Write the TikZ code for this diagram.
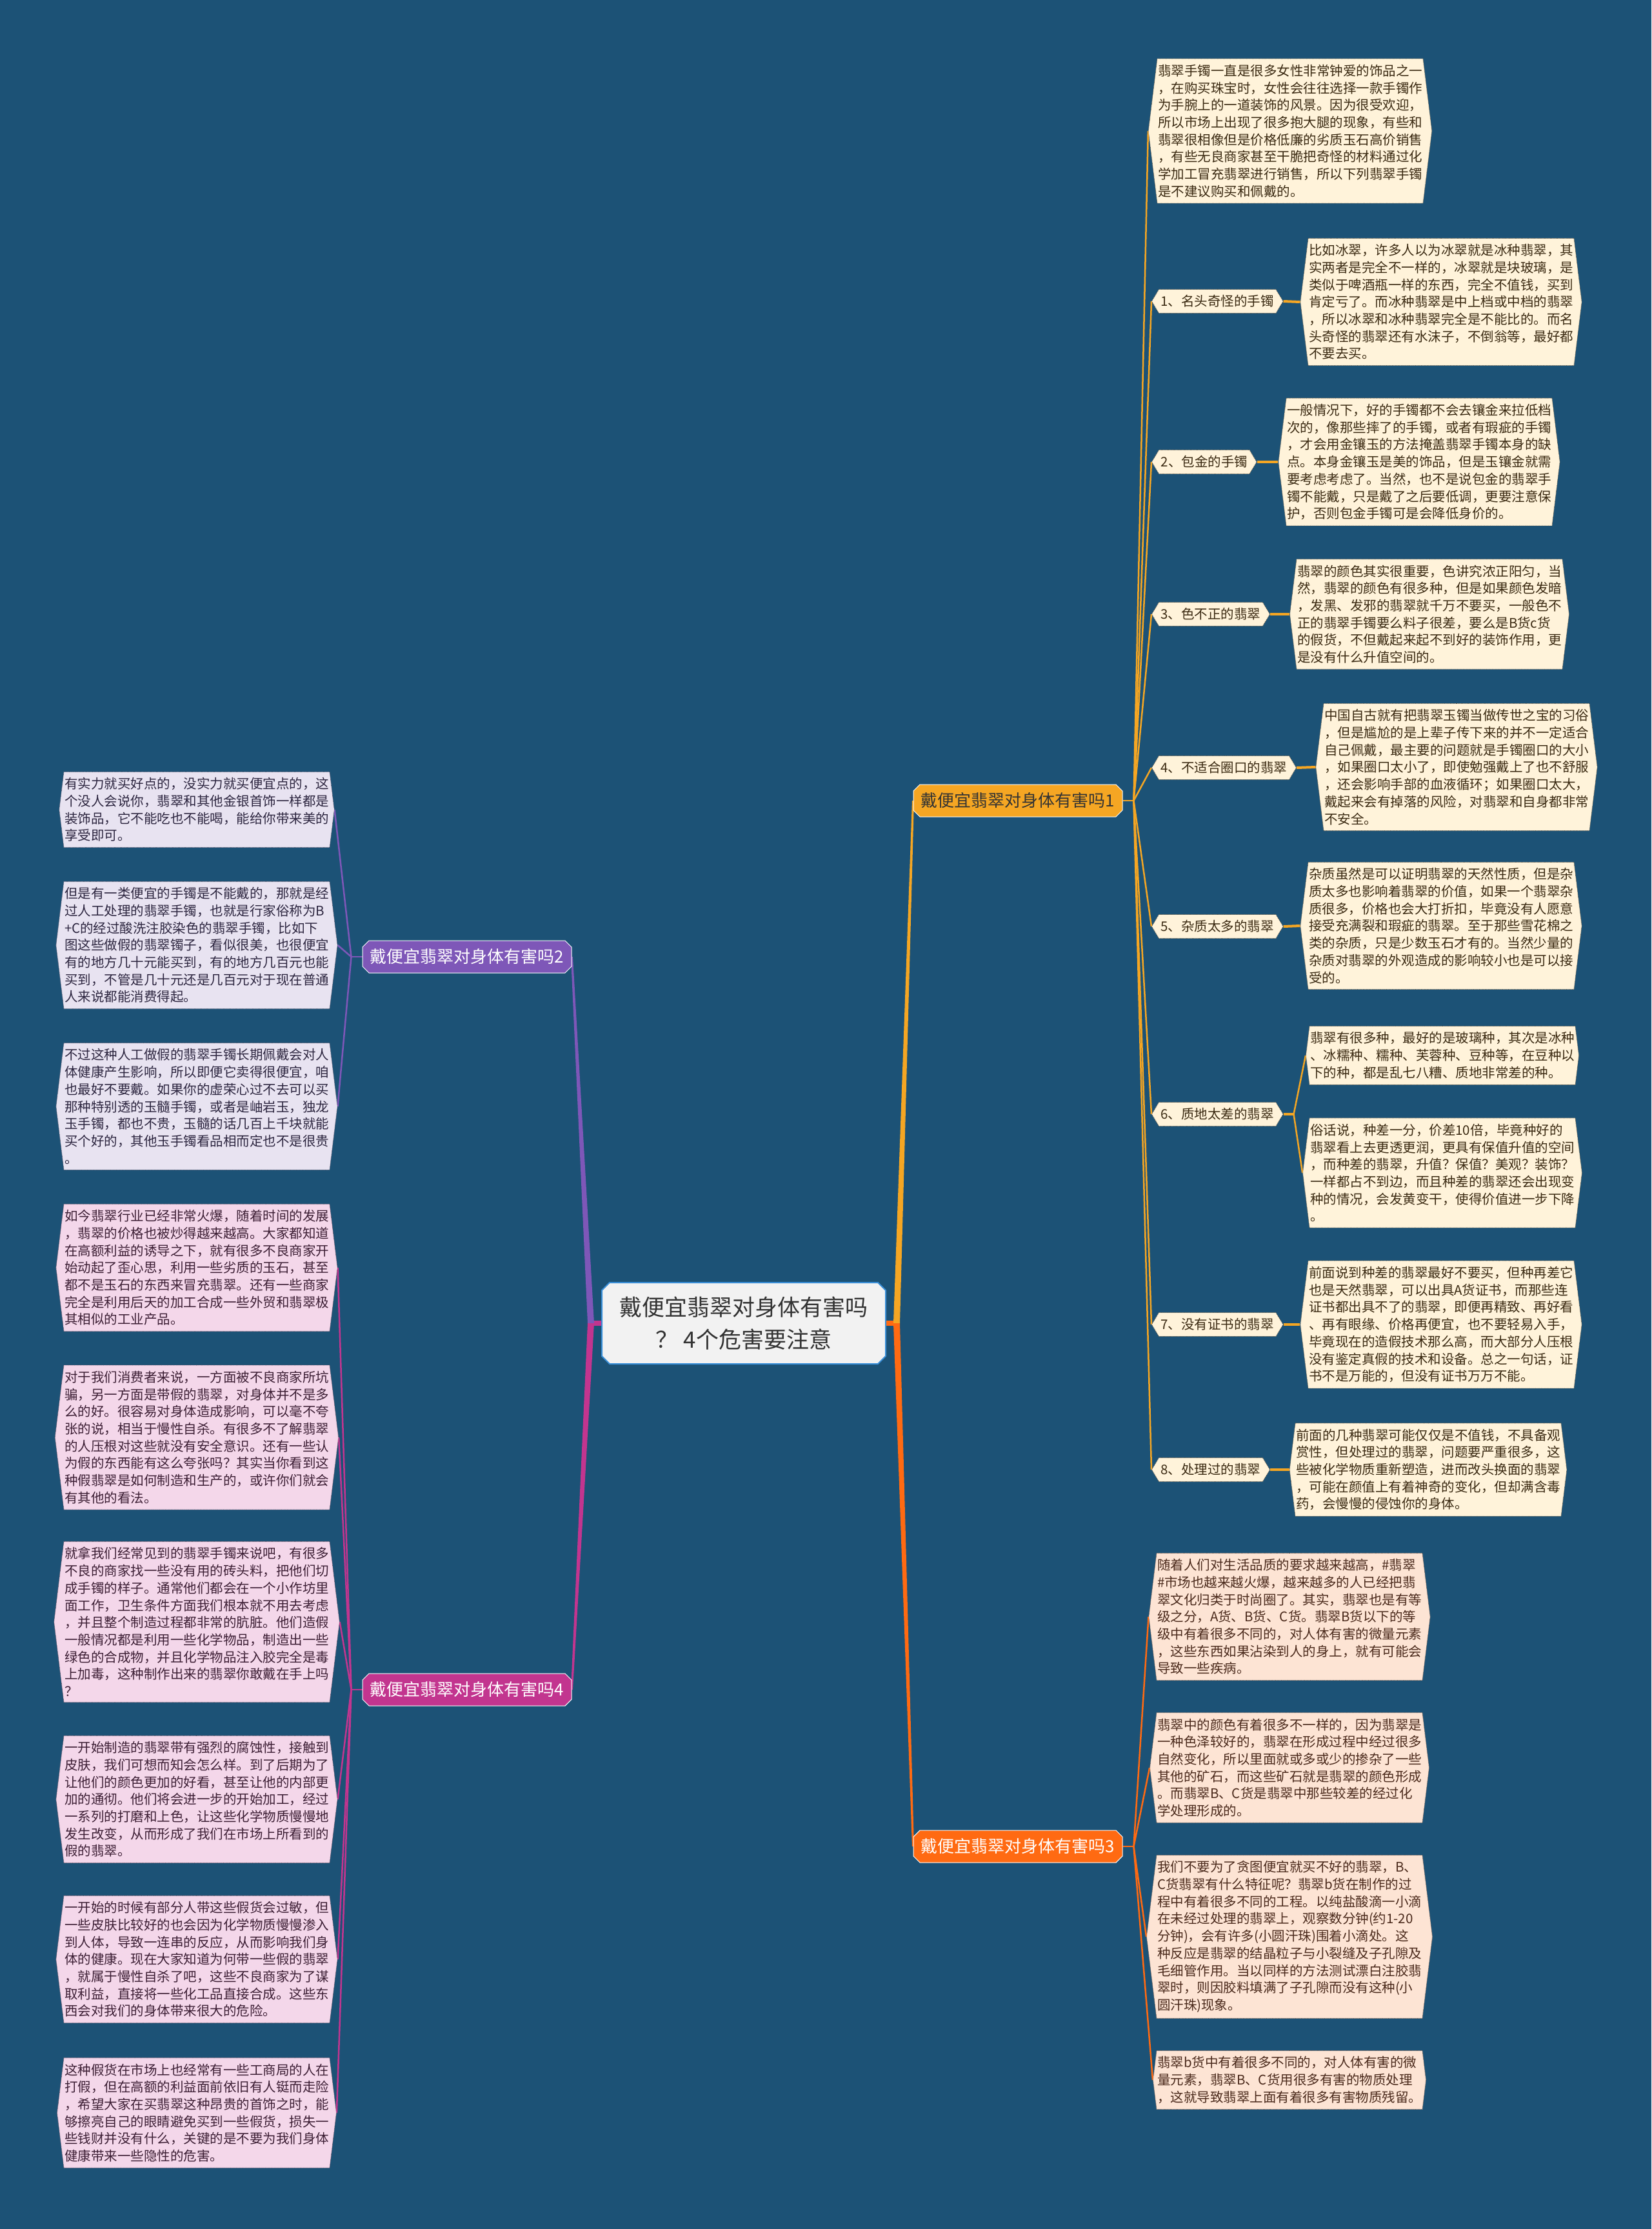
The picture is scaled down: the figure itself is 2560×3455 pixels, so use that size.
\documentclass[tikz,border=0pt]{standalone}
\usepackage{fontspec}
\newfontfamily\cjk{Noto Sans CJK SC}
\usepackage{xcolor}
\usepackage{tikz}
\usetikzlibrary{calc,backgrounds,shapes.symbols,shapes.misc}
\definecolor{mapbg}{HTML}{1C5276}
\definecolor{rootedge}{HTML}{3A8FD8}
\definecolor{rootfill}{HTML}{F2F2F2}
\definecolor{goldline}{HTML}{F5A623}
\definecolor{flameline}{HTML}{FF6A12}
\definecolor{violetline}{HTML}{7E57B8}
\definecolor{berryline}{HTML}{C2358F}
\definecolor{creamfill}{HTML}{FFF3DA}
\definecolor{peachfill}{HTML}{FDE4D4}
\definecolor{lavenderfill}{HTML}{E8E3F1}
\definecolor{pinkfill}{HTML}{F4D7EA}
\definecolor{brownink}{HTML}{3B2A12}
\definecolor{rustink}{HTML}{4B2A1C}
\definecolor{plumink}{HTML}{2D2640}
\definecolor{wineink}{HTML}{3D1F35}
\definecolor{titleink}{HTML}{333333}

\begin{document}
\begin{tikzpicture}[x=1pt,y=-1pt,
  rootnode/.style={chamfered rectangle,chamfered rectangle xsep=6pt,chamfered rectangle ysep=6pt,draw=rootedge,line width=2pt,fill=rootfill,minimum width=440pt,minimum height=126pt,align=center,text=titleink,font=\cjk\fontsize{35}{50}\selectfont},
  branchnode/.style={chamfered rectangle,chamfered rectangle xsep=5pt,chamfered rectangle ysep=5pt,draw=white,line width=1pt,minimum width=324pt,minimum height=50pt,inner xsep=6pt,font=\cjk\fontsize{26}{30}\selectfont},
  leafnode/.style={signal,signal to=east and west,signal pointer angle=166,densely dotted,line width=0.8pt,text width=410pt,align=left,inner xsep=1pt,inner ysep=9pt,font=\cjk\fontsize{20.5}{26.7}\selectfont},
  goldleaf/.style={leafnode,fill=creamfill,draw=brownink!80,text=brownink},
  flameleaf/.style={leafnode,fill=peachfill,draw=rustink!80,text=rustink},
  violetleaf/.style={leafnode,fill=lavenderfill,draw=plumink!80,text=plumink},
  berryleaf/.style={leafnode,fill=pinkfill,draw=wineink!80,text=wineink},
  topiclabel/.style={signal,signal to=east and west,signal pointer angle=118,fill=creamfill,draw=brownink!80,densely dotted,line width=0.8pt,text=brownink,inner xsep=3pt,inner ysep=9pt,anchor=west,font=\cjk\fontsize{20.5}{24}\selectfont},
  goldlink/.style={draw=goldline,line width=2.5pt},
  stemlink/.style={draw=goldline,line width=4pt},
  flamelink/.style={draw=flameline,line width=2.5pt},
  violetlink/.style={draw=violetline,line width=2.5pt},
  berrylink/.style={draw=berryline,line width=2.5pt}
]
\begin{scope}[on background layer]
\path[use as bounding box,fill=mapbg] (0,0) rectangle (2560,3455);
\end{scope}

% Root and the four main branches
\node[rootnode] (root) at (1153,2051) {戴便宜翡翠对身体有害吗\\？ 4个危害要注意};
\node[branchnode,fill=goldline,text=titleink] (b1) at (1578,1241) {戴便宜翡翠对身体有害吗1};
\node[branchnode,fill=violetline,text=white] (b2) at (724,1483) {戴便宜翡翠对身体有害吗2};
\node[branchnode,fill=flameline,text=white] (b3) at (1578,2862) {戴便宜翡翠对身体有害吗3};
\node[branchnode,fill=berryline,text=white] (b4) at (724,2619) {戴便宜翡翠对身体有害吗4};

% Branch 1: intro and the eight kinds
\node[goldleaf] (t0) at (2000,203) {翡翠手镯一直是很多女性非常钟爱的饰品之一\\，在购买珠宝时，女性会往往选择一款手镯作\\为手腕上的一道装饰的风景。因为很受欢迎，\\所以市场上出现了很多抱大腿的现象，有些和\\翡翠很相像但是价格低廉的劣质玉石高价销售\\，有些无良商家甚至干脆把奇怪的材料通过化\\学加工冒充翡翠进行销售，所以下列翡翠手镯\\是不建议购买和佩戴的。};

\node[topiclabel] (lab1) at (1785,467) {1、名头奇怪的手镯};
\node[topiclabel] (lab2) at (1785,716) {2、包金的手镯};
\node[topiclabel] (lab3) at (1785,952) {3、色不正的翡翠};
\node[topiclabel] (lab4) at (1785,1190) {4、不适合圈口的翡翠};
\node[topiclabel] (lab5) at (1785,1436) {5、杂质太多的翡翠};
\node[topiclabel] (lab6) at (1785,1727) {6、质地太差的翡翠};
\node[topiclabel] (lab7) at (1785,2053) {7、没有证书的翡翠};
\node[topiclabel] (lab8) at (1785,2278) {8、处理过的翡翠};

\node[goldleaf] (leaf1) at (2234,468) {比如冰翠，许多人以为冰翠就是冰种翡翠，其\\实两者是完全不一样的，冰翠就是块玻璃，是\\类似于啤酒瓶一样的东西，完全不值钱，买到\\肯定亏了。而冰种翡翠是中上档或中档的翡翠\\，所以冰翠和冰种翡翠完全是不能比的。而名\\头奇怪的翡翠还有水沫子，不倒翁等，最好都\\不要去买。};
\node[goldleaf] (leaf2) at (2200,716) {一般情况下，好的手镯都不会去镶金来拉低档\\次的，像那些摔了的手镯，或者有瑕疵的手镯\\，才会用金镶玉的方法掩盖翡翠手镯本身的缺\\点。本身金镶玉是美的饰品，但是玉镶金就需\\要考虑考虑了。当然，也不是说包金的翡翠手\\镯不能戴，只是戴了之后要低调，更要注意保\\护，否则包金手镯可是会降低身价的。};
\node[goldleaf] (leaf3) at (2216,952) {翡翠的颜色其实很重要，色讲究浓正阳匀，当\\然，翡翠的颜色有很多种，但是如果颜色发暗\\，发黑、发邪的翡翠就千万不要买，一般色不\\正的翡翠手镯要么料子很差，要么是B货c货\\的假货，不但戴起来起不到好的装饰作用，更\\是没有什么升值空间的。};
\node[goldleaf] (leaf4) at (2258,1189) {中国自古就有把翡翠玉镯当做传世之宝的习俗\\，但是尴尬的是上辈子传下来的并不一定适合\\自己佩戴，最主要的问题就是手镯圈口的大小\\，如果圈口太小了，即使勉强戴上了也不舒服\\，还会影响手部的血液循环；如果圈口太大，\\戴起来会有掉落的风险，对翡翠和自身都非常\\不安全。};
\node[goldleaf] (leaf5) at (2234,1435) {杂质虽然是可以证明翡翠的天然性质，但是杂\\质太多也影响着翡翠的价值，如果一个翡翠杂\\质很多，价格也会大打折扣，毕竟没有人愿意\\接受充满裂和瑕疵的翡翠。至于那些雪花棉之\\类的杂质，只是少数玉石才有的。当然少量的\\杂质对翡翠的外观造成的影响较小也是可以接\\受的。};
\node[goldleaf] (leaf6a) at (2236,1636) {翡翠有很多种，最好的是玻璃种，其次是冰种\\、冰糯种、糯种、芙蓉种、豆种等，在豆种以\\下的种，都是乱七八糟、质地非常差的种。};
\node[goldleaf] (leaf6b) at (2236,1818) {俗话说，种差一分，价差10倍，毕竟种好的\\翡翠看上去更透更润，更具有保值升值的空间\\，而种差的翡翠，升值？保值？美观？装饰？\\一样都占不到边，而且种差的翡翠还会出现变\\种的情况，会发黄变干，使得价值进一步下降\\。};
\node[goldleaf] (leaf7) at (2234,2053) {前面说到种差的翡翠最好不要买，但种再差它\\也是天然翡翠，可以出具A货证书，而那些连\\证书都出具不了的翡翠，即便再精致、再好看\\、再有眼缘、价格再便宜，也不要轻易入手，\\毕竟现在的造假技术那么高，而大部分人压根\\没有鉴定真假的技术和设备。总之一句话，证\\书不是万能的，但没有证书万万不能。};
\node[goldleaf] (leaf8) at (2214,2278) {前面的几种翡翠可能仅仅是不值钱，不具备观\\赏性，但处理过的翡翠，问题要严重很多，这\\些被化学物质重新塑造，进而改头换面的翡翠\\，可能在颜值上有着神奇的变化，但却满含毒\\药，会慢慢的侵蚀你的身体。};

% Branch 3
\node[flameleaf] (c1) at (1999,2506) {随着人们对生活品质的要求越来越高，\#翡翠\\\#市场也越来越火爆，越来越多的人已经把翡\\翠文化归类于时尚圈了。其实，翡翠也是有等\\级之分，A货、B货、C货。翡翠B货以下的等\\级中有着很多不同的，对人体有害的微量元素\\，这些东西如果沾染到人的身上，就有可能会\\导致一些疾病。};
\node[flameleaf] (c2) at (1999,2740) {翡翠中的颜色有着很多不一样的，因为翡翠是\\一种色泽较好的，翡翠在形成过程中经过很多\\自然变化，所以里面就或多或少的掺杂了一些\\其他的矿石，而这些矿石就是翡翠的颜色形成\\。而翡翠B、C货是翡翠中那些较差的经过化\\学处理形成的。};
\node[flameleaf] (c3) at (1999,3002) {我们不要为了贪图便宜就买不好的翡翠，B、\\C货翡翠有什么特征呢？翡翠b货在制作的过\\程中有着很多不同的工程。以纯盐酸滴一小滴\\在未经过处理的翡翠上，观察数分钟(约1-20\\分钟)，会有许多(小圆汗珠)围着小滴处。这\\种反应是翡翠的结晶粒子与小裂缝及子孔隙及\\毛细管作用。当以同样的方法测试漂白注胶翡\\翠时，则因胶料填满了子孔隙而没有这种(小\\圆汗珠)现象。};
\node[flameleaf] (c4) at (1999,3224) {翡翠b货中有着很多不同的，对人体有害的微\\量元素，翡翠B、C货用很多有害的物质处理\\，这就导致翡翠上面有着很多有害物质残留。};

% Branch 2
\node[violetleaf] (v1) at (305,1255) {有实力就买好点的，没实力就买便宜点的，这\\个没人会说你，翡翠和其他金银首饰一样都是\\装饰品，它不能吃也不能喝，能给你带来美的\\享受即可。};
\node[violetleaf] (v2) at (305,1465) {但是有一类便宜的手镯是不能戴的，那就是经\\过人工处理的翡翠手镯，也就是行家俗称为B\\+C的经过酸洗注胶染色的翡翠手镯，比如下\\图这些做假的翡翠镯子，看似很美，也很便宜\\有的地方几十元能买到，有的地方几百元也能\\买到，不管是几十元还是几百元对于现在普通\\人来说都能消费得起。};
\node[violetleaf] (v3) at (305,1715) {不过这种人工做假的翡翠手镯长期佩戴会对人\\体健康产生影响，所以即便它卖得很便宜，咱\\也最好不要戴。如果你的虚荣心过不去可以买\\那种特别透的玉髓手镯，或者是岫岩玉，独龙\\玉手镯，都也不贵，玉髓的话几百上千块就能\\买个好的，其他玉手镯看品相而定也不是很贵\\。};

% Branch 4
\node[berryleaf] (p1) at (305,1965) {如今翡翠行业已经非常火爆，随着时间的发展\\，翡翠的价格也被炒得越来越高。大家都知道\\在高额利益的诱导之下，就有很多不良商家开\\始动起了歪心思，利用一些劣质的玉石，甚至\\都不是玉石的东西来冒充翡翠。还有一些商家\\完全是利用后天的加工合成一些外贸和翡翠极\\其相似的工业产品。};
\node[berryleaf] (p2) at (305,2228) {对于我们消费者来说，一方面被不良商家所坑\\骗，另一方面是带假的翡翠，对身体并不是多\\么的好。很容易对身体造成影响，可以毫不夸\\张的说，相当于慢性自杀。有很多不了解翡翠\\的人压根对这些就没有安全意识。还有一些认\\为假的东西能有这么夸张吗？其实当你看到这\\种假翡翠是如何制造和生产的，或许你们就会\\有其他的看法。};
\node[berryleaf] (p3) at (305,2514) {就拿我们经常见到的翡翠手镯来说吧，有很多\\不良的商家找一些没有用的砖头料，把他们切\\成手镯的样子。通常他们都会在一个小作坊里\\面工作，卫生条件方面我们根本就不用去考虑\\，并且整个制造过程都非常的肮脏。他们造假\\一般情况都是利用一些化学物品，制造出一些\\绿色的合成物，并且化学物品注入胶完全是毒\\上加毒，这种制作出来的翡翠你敢戴在手上吗\\？};
\node[berryleaf] (p4) at (305,2789) {一开始制造的翡翠带有强烈的腐蚀性，接触到\\皮肤，我们可想而知会怎么样。到了后期为了\\让他们的颜色更加的好看，甚至让他的内部更\\加的通彻。他们将会进一步的开始加工，经过\\一系列的打磨和上色，让这些化学物质慢慢地\\发生改变，从而形成了我们在市场上所看到的\\假的翡翠。};
\node[berryleaf] (p5) at (305,3037) {一开始的时候有部分人带这些假货会过敏，但\\一些皮肤比较好的也会因为化学物质慢慢渗入\\到人体，导致一连串的反应，从而影响我们身\\体的健康。现在大家知道为何带一些假的翡翠\\，就属于慢性自杀了吧，这些不良商家为了谋\\取利益，直接将一些化工品直接合成。这些东\\西会对我们的身体带来很大的危险。};
\node[berryleaf] (p6) at (305,3275) {这种假货在市场上也经常有一些工商局的人在\\打假，但在高额的利益面前依旧有人铤而走险\\，希望大家在买翡翠这种昂贵的首饰之时，能\\够擦亮自己的眼睛避免买到一些假货，损失一\\些钱财并没有什么，关键的是不要为我们身体\\健康带来一些隐性的危害。};

% Connectors, kept behind the boxes
\begin{scope}[on background layer]
\coordinate (rj) at ($(root.east)+(16,0)$);
\coordinate (lj) at ($(root.west)+(-16,0)$);
\draw[flameline,line width=8pt] (root.east) -- (rj);
\draw[berryline,line width=8pt] (root.west) -- (lj);
\fill[goldline] ($(rj)+(-5,0)$) -- ($(b1.west)+(-1.5,0)$) -- ($(b1.west)+(1.5,0)$) -- ($(rj)+(5,0)$) -- cycle;
\fill[flameline] ($(rj)+(-5,0)$) -- ($(b3.west)+(-1.5,0)$) -- ($(b3.west)+(1.5,0)$) -- ($(rj)+(5,0)$) -- cycle;
\fill[violetline] ($(lj)+(-5,0)$) -- ($(b2.east)+(-1.5,0)$) -- ($(b2.east)+(1.5,0)$) -- ($(lj)+(5,0)$) -- cycle;
\fill[berryline] ($(lj)+(-5,0)$) -- ($(b4.east)+(-1.5,0)$) -- ($(b4.east)+(1.5,0)$) -- ($(lj)+(5,0)$) -- cycle;

% Branch 1 fan
\coordinate (b1j) at ($(b1.east)+(17,0)$);
\draw[goldlink] (b1.east) -- (b1j);
\draw[goldlink] (b1j) -- (t0.west);
\draw[goldlink] (b1j) -- (lab1.west);
\draw[goldlink] (b1j) -- (lab2.west);
\draw[goldlink] (b1j) -- (lab3.west);
\draw[goldlink] (b1j) -- (lab4.west);
\draw[goldlink] (b1j) -- (lab5.west);
\draw[goldlink] (b1j) -- (lab6.west);
\draw[goldlink] (b1j) -- (lab7.west);
\draw[goldlink] (b1j) -- (lab8.west);
\draw[stemlink] (lab1.east) -- (leaf1.west);
\draw[stemlink] (lab2.east) -- (leaf2.west);
\draw[stemlink] (lab3.east) -- (leaf3.west);
\draw[stemlink] (lab4.east) -- (leaf4.west);
\draw[stemlink] (lab5.east) -- (leaf5.west);
\coordinate (lab6j) at ($(lab6.east)+(16,0)$);
\draw[stemlink] (lab6.east) -- (lab6j);
\draw[goldlink] (lab6j) -- (leaf6a.west);
\draw[goldlink] (lab6j) -- (leaf6b.west);
\draw[stemlink] (lab7.east) -- (leaf7.west);
\draw[stemlink] (lab8.east) -- (leaf8.west);

% Branch 3 fan
\coordinate (b3j) at ($(b3.east)+(17,0)$);
\draw[flamelink] (b3.east) -- (b3j);
\draw[flamelink] (b3j) -- (c1.west);
\draw[flamelink] (b3j) -- (c2.west);
\draw[flamelink] (b3j) -- (c3.west);
\draw[flamelink] (b3j) -- (c4.west);

% Branch 2 and 4 fans, to the left
\coordinate (b2j) at ($(b2.west)+(-17,0)$);
\draw[violetlink] (b2.west) -- (b2j);
\draw[violetlink] (b2j) -- (v1.east);
\draw[violetlink] (b2j) -- (v2.east);
\draw[violetlink] (b2j) -- (v3.east);
\coordinate (b4j) at ($(b4.west)+(-17,0)$);
\draw[berrylink] (b4.west) -- (b4j);
\draw[berrylink] (b4j) -- (p1.east);
\draw[berrylink] (b4j) -- (p2.east);
\draw[berrylink] (b4j) -- (p3.east);
\draw[berrylink] (b4j) -- (p4.east);
\draw[berrylink] (b4j) -- (p5.east);
\draw[berrylink] (b4j) -- (p6.east);
\end{scope}

\end{tikzpicture}
\end{document}
